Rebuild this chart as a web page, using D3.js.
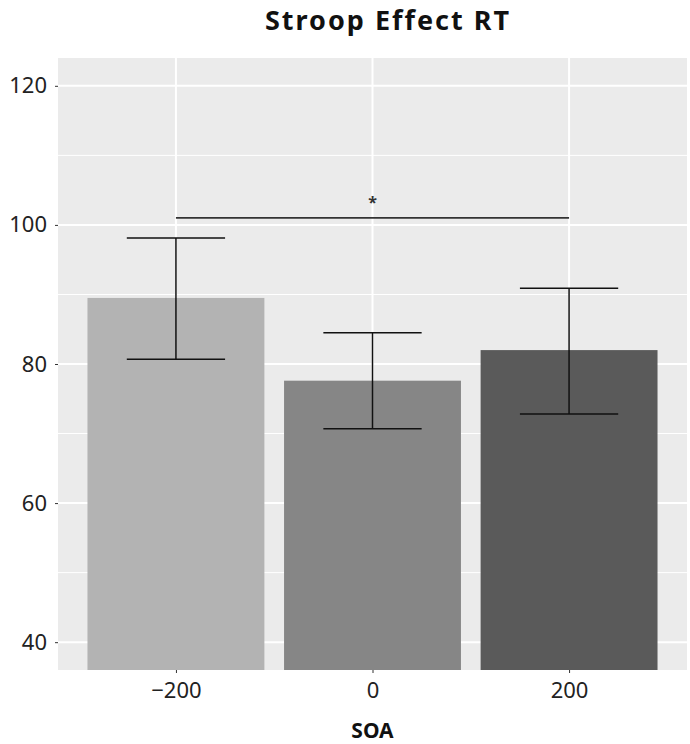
<!DOCTYPE html>
<html>
<head>
<meta charset="utf-8">
<script src="https://cdn.jsdelivr.net/npm/d3@7"></script>
<style>
  body { margin: 0; background: #fff; }
  text { font-family: "Noto Sans", "Open Sans", sans-serif; }
</style>
</head>
<body>
<div class="chart"></div>
<script>
// values
var soa = ["-200", "0", "200"];
var meanRT = [89.5, 77.6, 82.0];
var ciLow = [80.7, 70.7, 72.8];
var ciHigh = [98.1, 84.5, 90.9];
var fills = ["#b3b3b3", "#868686", "#5a5a5a"];
var yTicks = [40, 60, 80, 100, 120];
var yMinor = [50, 70, 90, 110];
var sigPair = ["-200", "200"];
var sigValue = 101;
var sigLabel = "*";

var config = {};
config.svg = { width: 690, height: 744 };
config.margin = { top: 58, right: 3, bottom: 74, left: 58 };
config.plot = {
    width: config.svg.width - config.margin.left - config.margin.right,
    height: config.svg.height - config.margin.top - config.margin.bottom
};

var translate = (x, y) => "translate(" + x + "," + y + ")";

var svg = d3.select(".chart")
    .append("svg")
    .attr("width", config.svg.width)
    .attr("height", config.svg.height);

var g = svg.append("g")
    .attr("transform", translate(config.margin.left, config.margin.top));

// ggplot-style discrete scale: 0.6 expansion each side
var xScale = d3.scalePoint()
    .domain(soa)
    .range([0, config.plot.width])
    .padding(0.6);
var step = xScale.step();

var yScale = d3.scaleLinear()
    .domain([36, 124])
    .range([config.plot.height, 0]);

// panel background
g.append("rect")
    .attr("width", config.plot.width)
    .attr("height", config.plot.height)
    .attr("fill", "#ebebeb");

g.append("defs").append("clipPath").attr("id", "clip")
    .append("rect")
    .attr("width", config.plot.width)
    .attr("height", config.plot.height);

// grid lines
g.selectAll("line.minor")
    .data(yMinor)
    .enter().append("line")
    .attr("class", "minor")
    .attr("x1", 0).attr("x2", config.plot.width)
    .attr("y1", d => yScale(d)).attr("y2", d => yScale(d))
    .attr("stroke", "#fff").attr("stroke-width", 1);

g.selectAll("line.major")
    .data(yTicks)
    .enter().append("line")
    .attr("class", "major")
    .attr("x1", 0).attr("x2", config.plot.width)
    .attr("y1", d => yScale(d)).attr("y2", d => yScale(d))
    .attr("stroke", "#fff").attr("stroke-width", 2);

g.selectAll("line.vmajor")
    .data(soa)
    .enter().append("line")
    .attr("class", "vmajor")
    .attr("x1", d => xScale(d)).attr("x2", d => xScale(d))
    .attr("y1", 0).attr("y2", config.plot.height)
    .attr("stroke", "#fff").attr("stroke-width", 2);

var rows = soa.map((s, i) => ({ soa: s, mean: meanRT[i], lo: ciLow[i], hi: ciHigh[i], fill: fills[i] }));

// bars, clipped to the panel since the axis does not start at zero
var barW = step * 0.9;
g.append("g").attr("clip-path", "url(#clip)")
    .selectAll("rect")
    .data(rows)
    .enter().append("rect")
    .attr("x", d => xScale(d.soa) - barW / 2)
    .attr("width", barW)
    .attr("y", d => yScale(d.mean))
    .attr("height", d => yScale(0) - yScale(d.mean))
    .attr("fill", d => d.fill);

// error bars
var capW = step * 0.5;
var eb = g.selectAll("g.err")
    .data(rows)
    .enter().append("g")
    .attr("class", "err")
    .attr("stroke", "#111")
    .attr("stroke-width", 1.5);

eb.append("line")
    .attr("x1", d => xScale(d.soa)).attr("x2", d => xScale(d.soa))
    .attr("y1", d => yScale(d.lo)).attr("y2", d => yScale(d.hi));
eb.append("line")
    .attr("x1", d => xScale(d.soa) - capW / 2).attr("x2", d => xScale(d.soa) + capW / 2)
    .attr("y1", d => yScale(d.hi)).attr("y2", d => yScale(d.hi));
eb.append("line")
    .attr("x1", d => xScale(d.soa) - capW / 2).attr("x2", d => xScale(d.soa) + capW / 2)
    .attr("y1", d => yScale(d.lo)).attr("y2", d => yScale(d.lo));

// significance bracket
g.append("line")
    .attr("x1", xScale(sigPair[0])).attr("x2", xScale(sigPair[1]))
    .attr("y1", yScale(sigValue)).attr("y2", yScale(sigValue))
    .attr("stroke", "#333").attr("stroke-width", 1.7);

g.append("text")
    .attr("x", (xScale(sigPair[0]) + xScale(sigPair[1])) / 2)
    .attr("y", yScale(sigValue) - 10)
    .attr("text-anchor", "middle")
    .attr("font-size", "16px")
    .attr("font-weight", "bold")
    .attr("fill", "#333")
    .text(sigLabel);

// axes
var yAxis = d3.axisLeft(yScale)
    .tickValues(yTicks)
    .tickSize(3)
    .tickPadding(8);

var yG = g.append("g").call(yAxis);
yG.select(".domain").remove();
yG.selectAll(".tick line").attr("stroke", "#333");
yG.selectAll(".tick text")
    .attr("font-size", "22px")
    .attr("fill", "#222")
    .attr("font-family", "Noto Sans");

var xAxis = d3.axisBottom(xScale)
    .tickSize(3)
    .tickPadding(9)
    .tickFormat(d => d.replace("-", "\u2212"));

var xG = g.append("g")
    .attr("transform", translate(0, config.plot.height))
    .call(xAxis);
xG.select(".domain").remove();
xG.selectAll(".tick line").attr("stroke", "#333");
xG.selectAll(".tick text")
    .attr("font-size", "22px")
    .attr("fill", "#222")
    .attr("font-family", "Noto Sans");

// titles
svg.append("text")
    .attr("x", config.margin.left + config.plot.width / 2)
    .attr("y", 738)
    .attr("text-anchor", "middle")
    .attr("font-size", "21px")
    .attr("font-weight", "bold")
    .attr("fill", "#111")
    .text("SOA");

svg.append("text")
    .attr("x", 388)
    .attr("y", 30)
    .attr("text-anchor", "middle")
    .attr("font-size", "27px")
    .attr("font-weight", "bold")
    .attr("letter-spacing", "2px")
    .attr("fill", "#111")
    .text("Stroop Effect RT");
</script>
</body>
</html>
